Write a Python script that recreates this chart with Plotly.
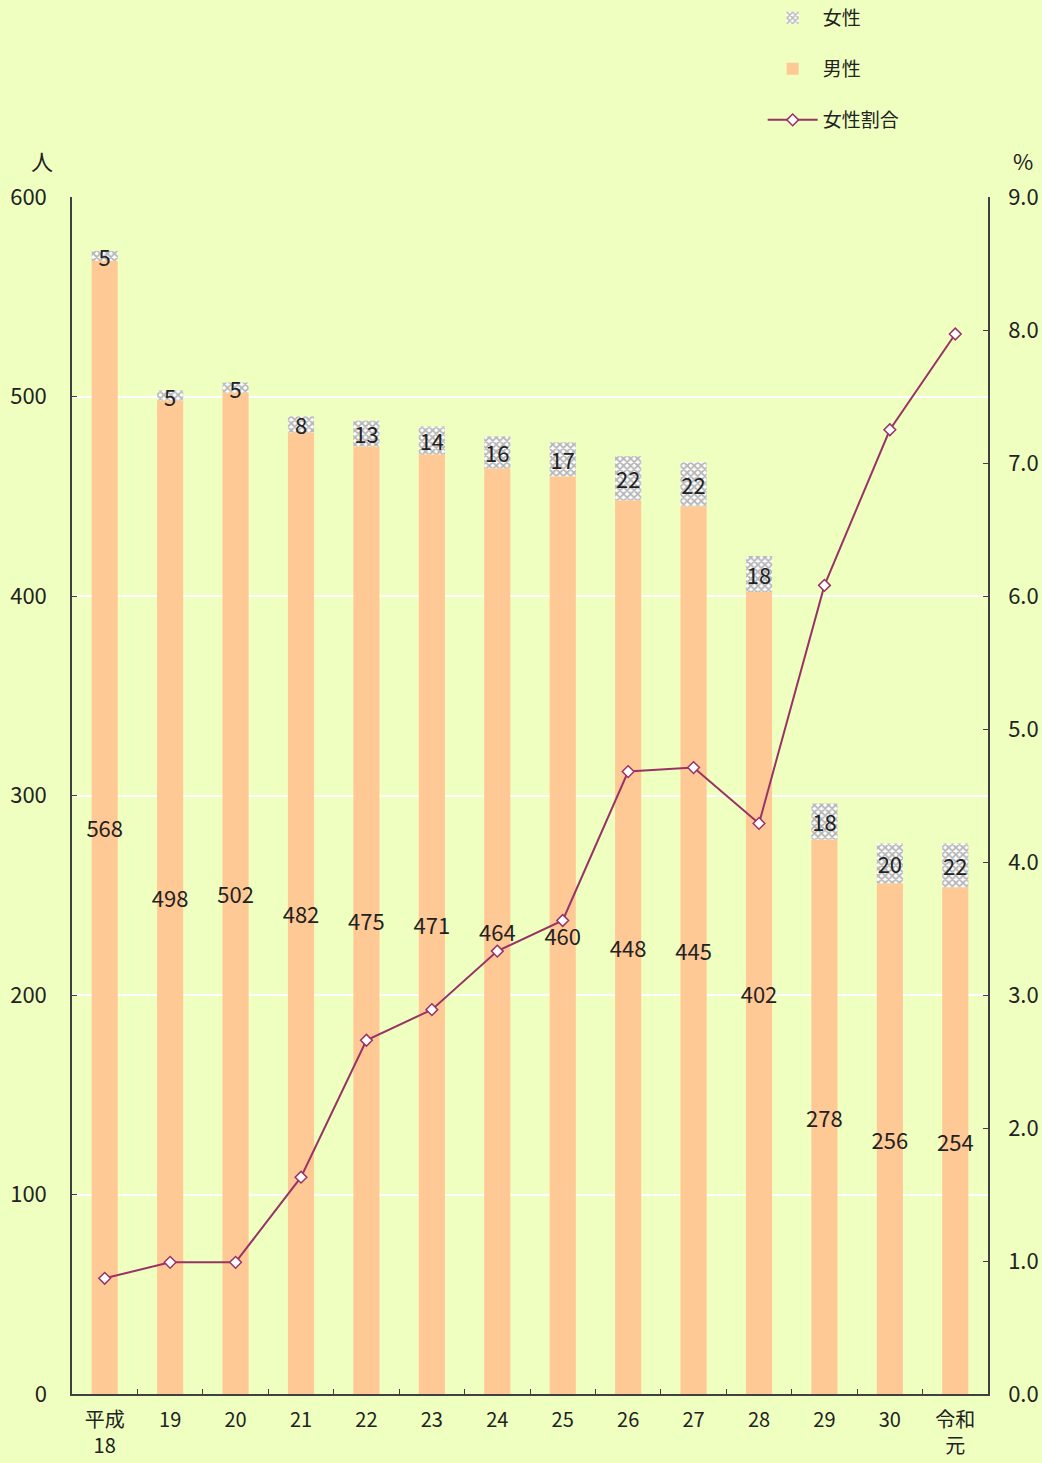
import plotly.graph_objects as go

categories = ["平成<br>18", "19", "20", "21", "22", "23", "24", "25", "26", "27", "28", "29", "30", "令和<br>元"]
male = [568, 498, 502, 482, 475, 471, 464, 460, 448, 445, 402, 278, 256, 254]
female = [5, 5, 5, 8, 13, 14, 16, 17, 22, 22, 18, 18, 20, 22]
female_ratio = [0.87, 0.99, 0.99, 1.63, 2.66, 2.89, 3.33, 3.56, 4.68, 4.71, 4.29, 6.08, 7.25, 7.97]

FONT = "Noto Sans CJK JP"
BG = "#EEFFC0"
TXT = "#222222"
AX = "#404040"
FS = 22

fig = go.Figure()

fig.add_trace(go.Bar(
    x=categories, y=male, name="男性",
    marker=dict(color="#FFC996", line=dict(width=0)),
    text=[str(v) for v in male], textposition="inside", insidetextanchor="middle",
    textangle=0, constraintext="none",
    textfont=dict(size=FS, color=TXT, family=FONT),
    width=0.4, legend="legend2",
))
fig.add_trace(go.Bar(
    x=categories, y=female, name="女性",
    marker=dict(color="white", line=dict(width=0),
                pattern=dict(shape="x", fgcolor="#6E6E6E", bgcolor="white", size=5, solidity=0.6)),
    text=[str(v) for v in female], textposition="inside", insidetextanchor="middle",
    textangle=0, constraintext="none",
    textfont=dict(size=FS, color=TXT, family=FONT),
    width=0.4, legend="legend", base=male,
))
fig.add_trace(go.Scatter(
    x=categories, y=female_ratio, name="女性割合", yaxis="y2",
    mode="lines+markers",
    line=dict(color="#993366", width=2),
    marker=dict(symbol="diamond", size=9, color="white", line=dict(color="#993366", width=1.5)),
    legend="legend3",
))

leg_common = dict(x=0.754, xanchor="left", yanchor="middle", bgcolor="rgba(0,0,0,0)",
                  font=dict(size=19, color=TXT, family=FONT), itemwidth=50)

fig.update_layout(
    width=1042, height=1463,
    paper_bgcolor=BG, plot_bgcolor=BG,
    margin=dict(l=72, r=54, t=197, b=69, autoexpand=False),
    barmode="overlay",
    showlegend=True,
    font=dict(family=FONT, size=FS, color=TXT),
    legend=dict(y=(1394 - 18) / 1197, **leg_common),
    legend2=dict(y=(1394 - 69) / 1197, **leg_common),
    legend3=dict(y=(1394 - 120) / 1197, **leg_common),
    xaxis=dict(
        type="category", range=[-0.5, 13.5], tickson="boundaries",
        ticks="inside", ticklen=5, tickcolor=AX, automargin=False,
        showline=True, linecolor=AX, linewidth=1.5,
        showgrid=False, tickfont=dict(size=20, color=TXT), ticklabelstandoff=7,
    ),
    yaxis=dict(
        range=[0, 600], dtick=100, ticks="inside", ticklen=5, tickcolor=AX, automargin=False,
        showline=True, linecolor=AX, linewidth=1.5,
        showgrid=True, gridcolor="white", gridwidth=1.5, zeroline=False,
        tickfont=dict(size=FS, color=TXT), ticklabelstandoff=19,
    ),
    yaxis2=dict(
        range=[0, 9], dtick=1, tickformat=".1f", overlaying="y", side="right",
        ticks="inside", ticklen=5, tickcolor=AX, automargin=False,
        showline=True, linecolor=AX, linewidth=1.5,
        showgrid=False, zeroline=False,
        tickfont=dict(size=FS, color=TXT), ticklabelstandoff=14,
    ),
    annotations=[
        dict(text="人", xref="paper", yref="paper", x=(42 - 72) / 916, y=(1394 - 160) / 1197,
             xanchor="center", yanchor="middle",
             showarrow=False, font=dict(size=FS, color=TXT)),
        dict(text="%", xref="paper", yref="paper", x=(1023 - 72) / 916, y=(1394 - 160) / 1197,
             xanchor="center", yanchor="middle",
             showarrow=False, font=dict(size=FS, color=TXT)),
    ],
)

fig.write_html("out.html", config={"displayModeBar": False},
               post_script="document.body.style.margin='0';document.body.style.padding='0';")
